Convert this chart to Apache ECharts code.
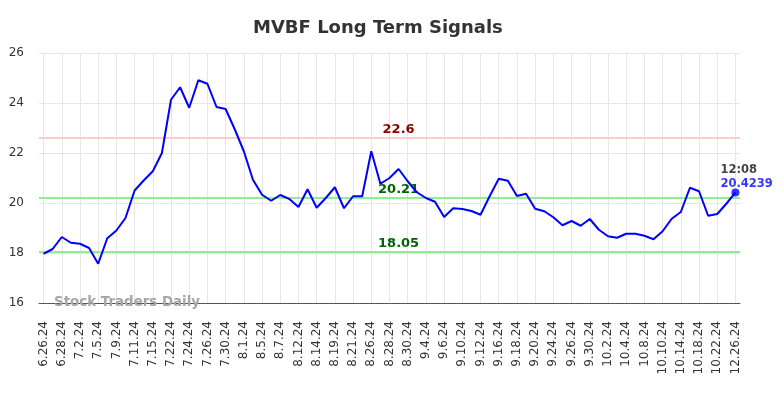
<!DOCTYPE html>
<html>
<head>
<meta charset="utf-8">
<script src="https://cdn.jsdelivr.net/npm/echarts@6/dist/echarts.min.js"></script>
<style>html,body{margin:0;padding:0;background:#fff}#c{width:784px;height:398px}</style>
</head>
<body>
<div id="c"></div>
<script>
var titleText = 'MVBF Long Term Signals';
var dates = ['6.26.24','6.27.24','6.28.24','7.1.24','7.2.24','7.3.24','7.5.24','7.8.24','7.9.24','7.10.24',
'7.11.24','7.12.24','7.15.24','7.19.24','7.22.24','7.23.24','7.24.24','7.25.24','7.26.24','7.29.24',
'7.30.24','7.31.24','8.1.24','8.2.24','8.5.24','8.6.24','8.7.24','8.9.24','8.12.24','8.13.24',
'8.14.24','8.16.24','8.19.24','8.20.24','8.21.24','8.23.24','8.26.24','8.27.24','8.28.24','8.29.24',
'8.30.24','9.3.24','9.4.24','9.5.24','9.6.24','9.9.24','9.10.24','9.11.24','9.12.24','9.13.24',
'9.16.24','9.17.24','9.18.24','9.19.24','9.20.24','9.23.24','9.24.24','9.25.24','9.26.24','9.27.24',
'9.30.24','10.1.24','10.2.24','10.3.24','10.4.24','10.7.24','10.8.24','10.9.24','10.10.24','10.11.24',
'10.14.24','10.16.24','10.18.24','10.21.24','10.22.24','10.23.24','12.26.24'];
var prices = [17.97,18.16,18.64,18.41,18.37,18.2,17.57,18.59,18.9,19.4,
20.5,20.9,21.27,22.0,24.13,24.63,23.81,24.91,24.77,23.84,
23.76,22.95,22.07,20.93,20.33,20.09,20.32,20.16,19.84,20.55,
19.81,20.2,20.63,19.79,20.27,20.27,22.07,20.77,21.0,21.36,
20.87,20.43,20.2,20.05,19.44,19.79,19.76,19.68,19.53,20.27,
20.97,20.89,20.28,20.37,19.77,19.67,19.43,19.11,19.28,19.09,
19.36,18.93,18.67,18.61,18.77,18.77,18.69,18.55,18.87,19.37,
19.64,20.61,20.47,19.49,19.56,19.97,20.4239];
var resistance = 22.6;
var support1 = 20.21;
var support2 = 18.05;
var lastTime = '12:08';
var lastValue = '20.4239';
var yTicks = {min:16, max:26, interval:2};
var watermark = 'Stock Traders Daily';

var FONT = 'DejaVu Sans';
var labelIdx = 39;
var chart = echarts.init(document.getElementById('c'), null, {renderer:'canvas'});
chart.setOption({
  animation:false,
  backgroundColor:'#fff',
  title:{text:titleText,left:248,top:14,textStyle:{fontFamily:FONT,fontSize:18,fontWeight:'bold',color:'#333'}},
  grid:{left:39,right:44,top:53,bottom:95,containLabel:false},
  xAxis:{type:'category',data:dates,boundaryGap:true,
    axisLine:{lineStyle:{color:'#555',width:1}},
    axisTick:{show:false,alignWithLabel:true,interval:1},
    axisLabel:{interval:1,rotate:90,margin:18,fontFamily:FONT,fontSize:12,color:'#333'},
    splitLine:{show:true,interval:1,alignWithLabel:true,lineStyle:{color:'#e6e6e6',width:1}}},
  yAxis:{type:'value',min:yTicks.min,max:yTicks.max,interval:yTicks.interval,
    axisLine:{show:false},axisTick:{show:false},
    axisLabel:{margin:15,fontFamily:FONT,fontSize:12,color:'#333'},
    splitLine:{lineStyle:{color:'#e6e6e6',width:1}}},
  graphic:[{type:'text',left:54,top:296,style:{text:watermark,fill:'#a6a6a6',font:'bold 13.4px "DejaVu Sans"'},z:100}],
  series:[
    {type:'line',data:prices,symbol:'none',lineStyle:{color:'#0000ff',width:2},z:5,
      markLine:{silent:true,symbol:'none',label:{show:false},
        data:[
          {yAxis:resistance,lineStyle:{color:'#ffcccc',width:2,type:'solid'}},
          {yAxis:support1,lineStyle:{color:'#90ee90',width:2,type:'solid'}},
          {yAxis:support2,lineStyle:{color:'#90ee90',width:2,type:'solid'}}
        ]},
      markPoint:{silent:true,symbol:'circle',symbolSize:0,
        data:[
          {coord:[dates[labelIdx],resistance],label:{show:true,position:'top',distance:2,formatter:String(resistance),color:'#8b0000',fontFamily:FONT,fontSize:13,fontWeight:'bold'}},
          {coord:[dates[labelIdx],support1],label:{show:true,position:'top',distance:2,formatter:String(support1),color:'#006400',fontFamily:FONT,fontSize:13,fontWeight:'bold'}},
          {coord:[dates[labelIdx],support2],label:{show:true,position:'top',distance:2,formatter:String(support2),color:'#006400',fontFamily:FONT,fontSize:13,fontWeight:'bold'}}
        ]}
    },
    {type:'scatter',data:[[dates[dates.length-1],prices[prices.length-1]]],symbol:'circle',symbolSize:8,itemStyle:{color:'#0000ff'},z:6,
      label:{show:true,position:[-11,-25],align:'left',verticalAlign:'top',
        formatter:'{t|'+lastTime+'}\n{v|'+lastValue+'}',
        rich:{t:{color:'#111',fontFamily:FONT,fontSize:11.5,fontWeight:'bold',lineHeight:14},
              v:{color:'#0000ff',fontFamily:FONT,fontSize:11.5,fontWeight:'bold',lineHeight:14}}}}
  ]
});
</script>
</body>
</html>
